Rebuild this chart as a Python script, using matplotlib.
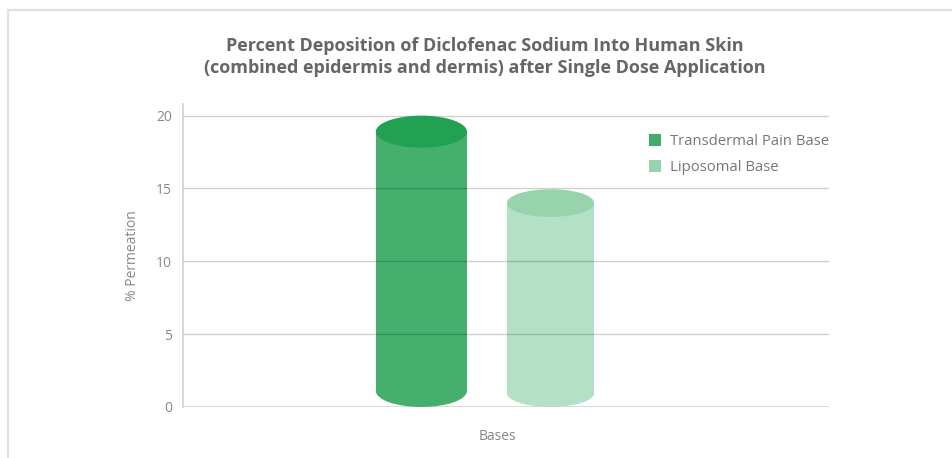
import matplotlib.pyplot as plt
from matplotlib.patches import Ellipse, Rectangle, Patch
from matplotlib.lines import Line2D

plt.rcParams['font.family'] = ['Open Sans', 'DejaVu Sans']

series = ["Transdermal Pain Base", "Liposomal Base"]
values = [18.9, 14.0]
category = "Bases"
yticks = [0, 5, 10, 15, 20]

body_colors = ["#45b06d", "#b4e1c6"]
top_colors = ["#22a152", "#97d3ac"]
legend_colors = ["#3fae68", "#97d3ac"]

# layout (axes x runs 0..1)
x_centers = [0.369, 0.569]
x_widths = [0.141, 0.135]
cap_h = [2.2, 1.9]   # ellipse height in data units

fig = plt.figure(figsize=(9.53, 4.58), dpi=100)
ax = fig.add_axes([183/953, 51/458, 646/953, 303/458])
ax.set_xlim(0, 1)
ax.set_ylim(0, 20.8)

# grid drawn over the cylinder bodies, under the caps
for y in yticks[1:]:
    ax.axhline(y, color=(0, 0, 0, 0.18), lw=1.0, zorder=2.5)
ax.axhline(0, color="#cfcfcf", lw=1.8, zorder=1)

for i, v in enumerate(values):
    xc, w, h = x_centers[i], x_widths[i], cap_h[i]
    base = h / 2
    ax.add_patch(Rectangle((xc - w/2, base), w, v - base, facecolor=body_colors[i],
                           edgecolor="none", zorder=2))
    ax.add_patch(Ellipse((xc, base), w, h, facecolor=body_colors[i],
                         edgecolor="none", zorder=2))
    ax.add_patch(Ellipse((xc, v), w, h, facecolor=top_colors[i],
                         edgecolor="none", zorder=3))

for s in ["top", "right", "bottom"]:
    ax.spines[s].set_visible(False)
ax.spines["left"].set_color("#cfcfcf")
ax.spines["left"].set_linewidth(1.2)
ax.set_yticks(yticks)
ax.set_xticks([])
ax.tick_params(axis="y", length=0, labelsize=10, labelcolor="#888888", pad=8)
ax.set_ylabel("% Permeation", fontsize=10, color="#888888")
ax.yaxis.set_label_coords(-0.066, 0.5)

handles = [Patch(facecolor=c, edgecolor="none") for c in legend_colors]
ax.legend(handles, series, loc="upper left", bbox_to_anchor=(0.7, 0.945), frameon=False,
          fontsize=10.7, labelcolor="#777777", handlelength=0.85, handleheight=0.85,
          handletextpad=0.6, labelspacing=0.72)

fig.text(497/953, 1 - 437/458, category, ha="center", va="center", fontsize=10, color="#888888")
fig.text(485/953, 1 - 57/458,
         "Percent Deposition of Diclofenac Sodium Into Human Skin\n"
         "(combined epidermis and dermis) after Single Dose Application",
         ha="center", va="center", fontsize=13, fontweight="bold", color="#666666",
         linespacing=1.33)

# outer frame
fig.add_artist(Line2D([8/953, 1], [1 - 10/458, 1 - 10/458], color="#e0e0e0", lw=1.5))
fig.add_artist(Line2D([8/953, 8/953], [0, 1 - 10/458], color="#e0e0e0", lw=1.5))

fig.savefig("out.png", dpi=100)
